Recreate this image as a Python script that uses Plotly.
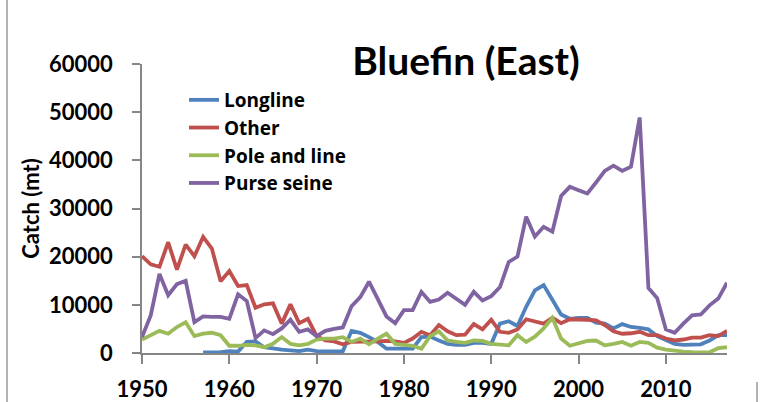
import plotly.graph_objects as go

years = list(range(1950, 2018))

longline = [None, None, None, None, None, None, None, 100, 100, 200,
            400, 300, 2300, 2400, 1200, 900, 700, 550, 400, 700,
            400, 350, 350, 350, 4600, 4200, 3300, 2300, 900, 900,
            1000, 900, 3300, 3400, 2600, 1900, 1700, 1700, 2100, 2100,
            1900, 6100, 6600, 5600, 9600, 13000, 14100, 11200, 8000, 7100,
            7300, 7300, 6300, 6100, 5100, 6000, 5400, 5200, 4900, 3500,
            2600, 1900, 1700, 1800, 1800, 2600, 3700, 3700]

other = [20100, 18400, 17900, 23000, 17300, 22500, 20100, 24100, 21700, 14900,
         17000, 13900, 14100, 9400, 10100, 10300, 6100, 10100, 6200, 7100,
         3500, 2600, 2400, 1800, 2300, 2300, 2400, 2400, 2500, 2400,
         2100, 3000, 4400, 3700, 5800, 4500, 3700, 3800, 6000, 4900,
         6900, 4400, 4200, 4900, 7000, 6500, 6100, 7300, 6200, 7000,
         7000, 6900, 6800, 5800, 4500, 4000, 4100, 4400, 3700, 3700,
         3000, 2600, 2800, 3200, 3200, 3700, 3500, 4600]

pole_and_line = [2800, 3700, 4600, 4000, 5400, 6400, 3500, 4000, 4200, 3700,
                 1500, 1500, 1700, 1600, 1200, 1900, 3300, 1900, 1600, 1900,
                 2800, 3000, 3000, 3300, 2300, 3000, 1800, 3000, 4000, 1900,
                 1700, 1500, 900, 3500, 4500, 2600, 2300, 2100, 2600, 2500,
                 1900, 1700, 1600, 3700, 2300, 3400, 5100, 7300, 3000, 1500,
                 2100, 2500, 2600, 1600, 1900, 2300, 1500, 2300, 2100, 1100,
                 700, 400, 300, 200, 150, 150, 1000, 1200]

purse_seine = [3300, 7800, 16400, 12000, 14300, 15000, 6400, 7600, 7500, 7500,
               7100, 12200, 10800, 3100, 4700, 3900, 5100, 6900, 4400, 4900,
               3500, 4600, 5000, 5300, 9700, 11600, 14800, 11100, 7600, 6200,
               8900, 8900, 12700, 10600, 11100, 12500, 11300, 10000, 12700, 10900,
               11800, 13700, 18900, 20000, 28300, 24200, 26200, 25200, 32600, 34500,
               33800, 33100, 35400, 37800, 38900, 37800, 38700, 48900, 13500, 11400,
               4900, 4200, 6100, 7800, 8000, 9900, 11300, 14600]

series_names = ["Longline", "Other", "Pole and line", "Purse seine"]
series_values = [longline, other, pole_and_line, purse_seine]
series_colors = ["#4F81BD", "#C0504D", "#9BBB59", "#8064A2"]

FONT = "Lato, 'Open Sans', sans-serif"
LEG_FONT = "'Open Sans', Lato, sans-serif"

fig = go.Figure()
for name, vals, col in zip(series_names, series_values, series_colors):
    fig.add_trace(go.Scatter(x=years, y=vals, name=name, mode="lines",
                             line=dict(color=col, width=3.8),
                             connectgaps=False))

W, H = 776, 402
L, R, T, B = 142, 49, 64, 49
pw, ph = W - L - R, H - T - B

def px_x(p):
    return (p - L) / pw

def px_y(p):
    return (H - B - p) / ph

fig.update_layout(
    width=W, height=H,
    margin=dict(l=L, r=R, t=T, b=B, autoexpand=False),
    paper_bgcolor="white", plot_bgcolor="white",
    font=dict(family=FONT, size=21, color="black", weight="bold"),
    title=dict(text="Bluefin (East)", x=466 / W, xref="container", xanchor="center",
               y=1 - 61 / H, yref="container", yanchor="middle",
               font=dict(family=FONT, size=39, color="black", weight="bold")),
    showlegend=True,
    legend=dict(x=px_x(184), y=px_y(81), xanchor="left", yanchor="top",
                bgcolor="rgba(0,0,0,0)", borderwidth=0,
                font=dict(family=LEG_FONT, size=19, color="black", weight="bold"),
                tracegroupgap=0, itemwidth=30),
    xaxis=dict(range=[1950, 2017], tickmode="linear", tick0=1950, dtick=10,
               automargin=False,
               showgrid=False, zeroline=False, showline=True, linecolor="#868686",
               linewidth=1.5, ticks="outside", ticklen=9, tickcolor="#868686",
               tickwidth=1.5, ticklabelstandoff=7,
               tickfont=dict(family=FONT, size=22, color="black", weight="bold")),
    yaxis=dict(range=[0, 60000], tickmode="linear", tick0=0, dtick=10000,
               automargin=False,
               showgrid=False, zeroline=False, showline=True, linecolor="#868686",
               linewidth=1.5, ticks="outside", ticklen=8, tickcolor="#868686",
               tickwidth=1.5, ticklabelstandoff=15, tickformat="d",
               title=dict(text="Catch (mt)", standoff=3,
                          font=dict(family=FONT, size=22, color="black", weight="bold")),
               tickfont=dict(family=FONT, size=22, color="black", weight="bold")),
    shapes=[
        dict(type="line", xref="paper", yref="paper",
             x0=px_x(7), x1=px_x(7), y0=px_y(0), y1=px_y(402),
             line=dict(color="#9a9a9a", width=1.5)),
        dict(type="line", xref="paper", yref="paper",
             x0=px_x(757), x1=px_x(757), y0=px_y(382), y1=px_y(402),
             line=dict(color="#9a9a9a", width=1.5)),
    ],
)

fig.write_html("out.html", config={"displayModeBar": False},
               post_script="document.body.style.margin='0';document.body.style.overflow='hidden';")
